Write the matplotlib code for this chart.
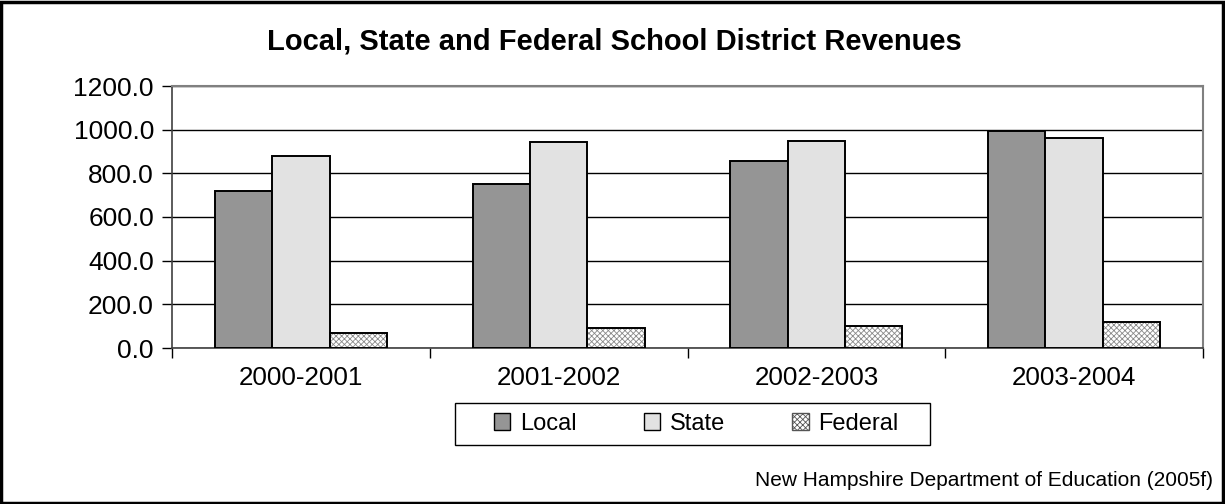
import matplotlib
matplotlib.use("Agg")
import matplotlib.pyplot as plt
import numpy as np
from matplotlib.patches import Rectangle, Patch

categories = ["2000-2001", "2001-2002", "2002-2003", "2003-2004"]
local = [717, 753, 858, 995]
state = [880, 942, 947, 961]
federal = [70, 92, 101, 121]
series_names = ["Local", "State", "Federal"]
yticks = [0, 200, 400, 600, 800, 1000, 1200]

plt.rcParams['font.family'] = ['Liberation Sans', 'DejaVu Sans']
plt.rcParams['hatch.linewidth'] = 0.6

fig = plt.figure(figsize=(12.25, 5.04), dpi=100)
ax = fig.add_axes([172/1225, 1-348/504, (1203-172)/1225, (348-86)/504])

x = np.arange(len(categories)) + 0.5
w = 1/4.5
colors = ['#959595', '#e2e2e2', '#ffffff']
hatches = [None, None, 'xxxxxx']
for i, vals in enumerate([local, state, federal]):
    pos = x + (i-1)*w
    if hatches[i]:
        ax.bar(pos, vals, w, linewidth=0, zorder=3, facecolor=colors[i],
               edgecolor='#8a8a8a', hatch=hatches[i])
        ax.bar(pos, vals, w, linewidth=1.4, zorder=4, facecolor='none', edgecolor='black')
    else:
        ax.bar(pos, vals, w, linewidth=1.4, zorder=3, facecolor=colors[i], edgecolor='black')

ax.set_xlim(0, 4)
ax.set_ylim(0, 1200)
ax.set_yticks(yticks)
ax.set_yticklabels([f"{v:.1f}" for v in yticks], fontsize=19)
ax.set_xticks([0, 1, 2, 3, 4])
ax.set_xticklabels([])
ax.set_xticks(x, minor=True)
ax.set_xticklabels(categories, minor=True, fontsize=18.7)
ax.tick_params(axis='x', which='minor', length=0, pad=13)
ax.tick_params(axis='x', which='major', length=7, direction='out', width=1)
ax.tick_params(axis='y', length=7, direction='out', width=1, pad=6)
ax.grid(axis='y', color='black', linewidth=1, zorder=1)
for s in ['top', 'right']:
    ax.spines[s].set_color('#808080')
    ax.spines[s].set_linewidth(1.5)
for s in ['left', 'bottom']:
    ax.spines[s].set_color('#404040')
    ax.spines[s].set_linewidth(1.2)

fig.text(0.5 + 2/1225, 1-42/504, "Local, State and Federal School District Revenues",
         ha='center', va='center', fontsize=21, fontweight='bold')

handles = [Patch(facecolor='#959595', edgecolor='black'),
           Patch(facecolor='#e2e2e2', edgecolor='black'),
           Patch(facecolor='white', edgecolor='#555555', hatch='xxxxxx')]
leg = fig.legend(handles, series_names, loc='center', bbox_to_anchor=(696/1225, 1-424/504),
                 ncol=3, fontsize=17, frameon=False,
                 handlelength=0.7, handleheight=0.7, handletextpad=0.4, columnspacing=2.85,
                 borderpad=0.35, borderaxespad=0)
fig.patches.append(Rectangle((455/1225, 1-445/504), (930-455)/1225, 42/504,
                             transform=fig.transFigure, fill=False, edgecolor='black',
                             linewidth=1.0))

fig.text(1213/1225, 1-481/504, "New Hampshire Department of Education (2005f)",
         ha='right', va='center', fontsize=15)

fig.patches.append(Rectangle((0.001, 0.002), 0.997, 0.995, transform=fig.transFigure,
                             fill=False, edgecolor='black', linewidth=2.5))

fig.savefig("out.png", dpi=100)
